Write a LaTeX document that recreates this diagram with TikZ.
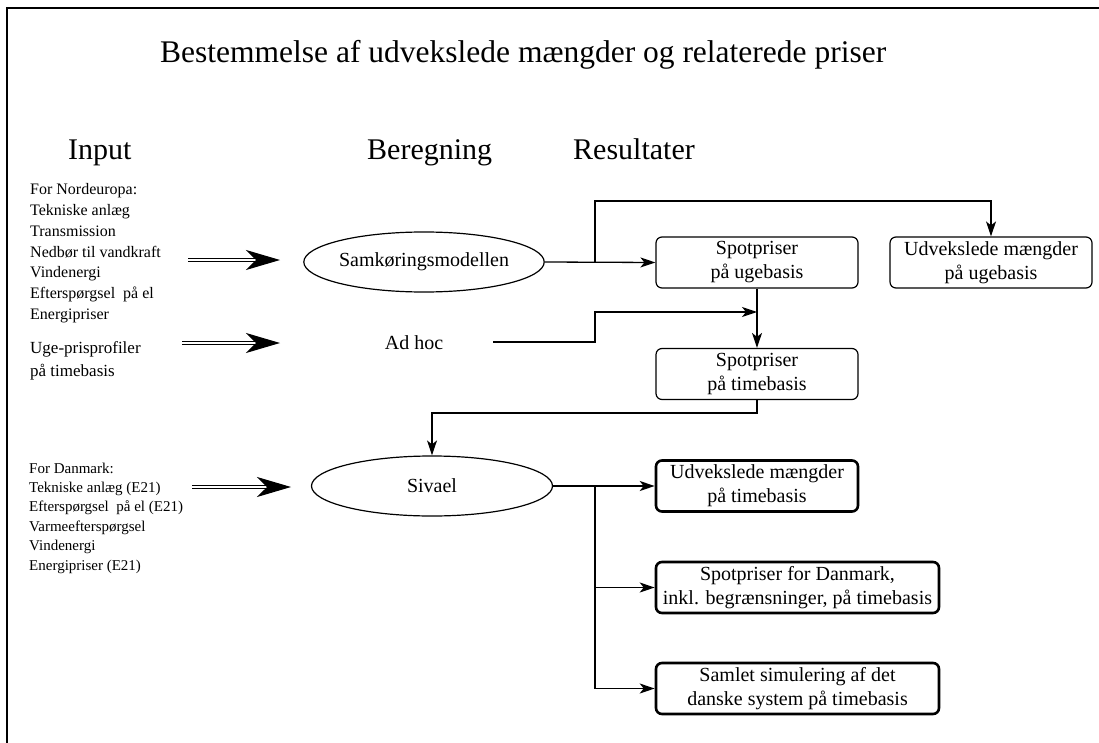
\documentclass[tikz,border=0pt]{standalone}
\usepackage{fontspec}
\setmainfont{Liberation Serif}
\usetikzlibrary{arrows.meta,shapes.geometric,calc}
\begin{document}
\begin{tikzpicture}[x=1pt,y=-1pt,
  conn/.style={line width=1.3pt,-{Stealth[length=15pt,width=10pt,inset=4pt]}},
  dblarrow/.style={double distance=2.6pt,line width=1.1pt,-{Stealth[length=34pt,width=20pt,inset=10pt]}},
  hdr/.style={font=\fontsize{30}{36}\selectfont, anchor=base west, inner sep=0pt},
  nordtxt/.style={font=\fontsize{16}{19}\selectfont, anchor=base west, inner sep=0pt},
  dktxt/.style={font=\fontsize{15}{18}\selectfont, anchor=base west, inner sep=0pt},
  ugetxt/.style={font=\fontsize{17}{20}\selectfont, anchor=base west, inner sep=0pt},
  calc/.style={ellipse, draw, line width=1.2pt, font=\fontsize{20}{24}\selectfont, inner sep=0pt},
  resbox/.style={draw, rounded corners=6pt, line width=1.2pt, align=center, inner sep=1pt,
     minimum width=202pt, minimum height=51pt, font=\fontsize{20}{24}\selectfont},
  resthick/.style={resbox, line width=2.6pt},
]
\useasboundingbox (0,0) rectangle (1099,743);
% frame
\draw[line width=1.5pt] (7,743) -- (7,8) -- (1099,8);

% title and headers
\node[hdr, font=\fontsize{31.5}{36}\selectfont] (title) at (160,63) {Bestemmelse af udvekslede mængder og relaterede priser};
\node[hdr] (hin) at (68,160) {Input};
\node[hdr] (hber) at (367,160) {Beregning};
\node[hdr] (hres) at (573,160) {Resultater};

% input lists
\foreach \t [count=\i] in {For Nordeuropa:, Tekniske anlæg, Transmission, Nedbør til vandkraft, Vindenergi, Efterspørgsel\ \ på el, Energipriser}
  \node[nordtxt] (nord\i) at (30,{195+20.7*(\i-1)}) {\t};
\node[ugetxt] (uge1) at (30,353) {Uge-prisprofiler};
\node[ugetxt] (uge2) at (30,376) {på timebasis};
\foreach \t [count=\i] in {For Danmark:, Tekniske anlæg (E21), Efterspørgsel\ \ på el (E21), Varmeefterspørgsel, Vindenergi, Energipriser (E21)}
  \node[dktxt] (dk\i) at (29,{473+19.4*(\i-1)}) {\t};

% calculation nodes
\node[calc, minimum width=238pt, minimum height=60pt] (samk) at (424,262) {Samkøringsmodellen};
\node[font=\fontsize{20}{24}\selectfont, inner sep=0pt] (adhoc) at (414,343) {Ad hoc};
\node[calc, minimum width=241pt, minimum height=60pt] (sivael) at (432,486) {Sivael};

% result boxes
\node[resbox] (spotu) at (757,262.5) {Spotpriser\\på ugebasis};
\node[resbox] (udvu) at (991,262.5) {Udvekslede mængder\\på ugebasis};
\node[resbox] (spott) at (757,374) {Spotpriser\\på timebasis};
\node[resthick] (udvt) at (757,486) {Udvekslede mængder\\på timebasis};
\node[resthick, minimum width=283pt] (spotdk) at (797.5,587.5) {Spotpriser for Danmark,\\inkl. begrænsninger, på timebasis};
\node[resthick, minimum width=283pt] (saml) at (797.5,688.5) {Samlet simulering af det\\danske system på timebasis};

% double input arrows
\coordinate (d1s) at (188,260); \coordinate (d1e) at (280,260);
\coordinate (d2s) at (182,343); \coordinate (d2e) at (280,343);
\coordinate (d3s) at (192,487); \coordinate (d3e) at (291,487);
\draw[dblarrow] (d1s) -- (d1e);
\draw[dblarrow] (d2s) -- (d2e);
\draw[dblarrow] (d3s) -- (d3e);

% connectors
\coordinate (b1) at (595,262);
\coordinate (b1top) at (595,201);
\draw[conn] (samk.east) -- (spotu.west);
\draw[conn] (b1) -- (b1top) -| (udvu.north);
\coordinate (adhocout) at (493,342);
\coordinate (a2) at (595,312);
\draw[conn] (adhocout) -| (a2) -- (a2 -| spotu.south);
\draw[conn] (spotu.south) -- (spott.north);
\draw[conn] (spott.south) -- ++(0,13) -| (sivael.north);
\coordinate (b2) at (595,486);
\draw[conn] (sivael.east) -- (udvt.west);
\draw[conn] (b2) |- (spotdk.west);
\draw[conn] (b2) |- (saml.west);
\end{tikzpicture}
\end{document}
